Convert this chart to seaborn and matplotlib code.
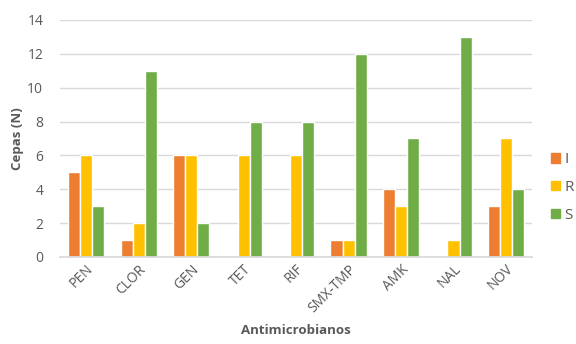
import pandas as pd
import matplotlib
matplotlib.use("Agg")
import matplotlib.pyplot as plt
import seaborn as sns

# Data
farmacos = ["PEN", "CLOR", "GEN", "TET", "RIF", "SMX-TMP", "AMK", "NAL", "NOV"]
intermedio = [5, 1, 6, 0, 0, 1, 4, 0, 3]
resistente = [6, 2, 6, 6, 6, 1, 3, 1, 7]
sensible = [3, 11, 2, 8, 8, 12, 7, 13, 4]
series = ["I", "R", "S"]
colores = ["#ED7D31", "#FFC000", "#70AD47"]

df = pd.DataFrame({
    "Antimicrobianos": farmacos * 3,
    "Cepas (N)": intermedio + resistente + sensible,
    "Serie": [s for s in series for _ in farmacos],
})

sns.set_theme(style="white")
plt.rcParams["font.family"] = ["Open Sans", "DejaVu Sans"]
txt = "#595959"

fig = plt.figure(figsize=(5.76, 3.44), dpi=100)
ax = fig.add_axes([0.104, 0.253, 0.82, 0.689])

sns.barplot(data=df, x="Antimicrobianos", y="Cepas (N)", hue="Serie",
            palette=colores, saturation=1, width=0.69, ax=ax, legend=False)

ax.set_ylim(0, 14)
ax.set_yticks(range(0, 15, 2))
ax.grid(axis="y", color="#D9D9D9", linewidth=1)
ax.set_axisbelow(True)
for s in ["top", "right", "left"]:
    ax.spines[s].set_visible(False)
ax.spines["bottom"].set_color("#D9D9D9")
ax.tick_params(axis="both", length=0, labelsize=10, colors=txt)
ax.tick_params(axis="y", pad=12)
plt.setp(ax.get_xticklabels(), rotation=45, ha="right", rotation_mode="anchor")
ax.set_xlabel("Antimicrobianos", fontsize=9.5, fontweight="bold", color=txt, labelpad=6)
ax.set_ylabel("Cepas (N)", fontsize=9.5, fontweight="bold", color=txt, labelpad=2)

handles = [plt.Rectangle((0, 0), 1, 1, color=c) for c in colores]
fig.legend(handles, series, loc="upper left", bbox_to_anchor=(0.956, 0.558),
           frameon=False, fontsize=11, labelcolor=txt, handlelength=0.6,
           handleheight=0.6, handletextpad=0.3, labelspacing=0.85,
           borderaxespad=0, borderpad=0)

fig.savefig("out.png", dpi=100)
